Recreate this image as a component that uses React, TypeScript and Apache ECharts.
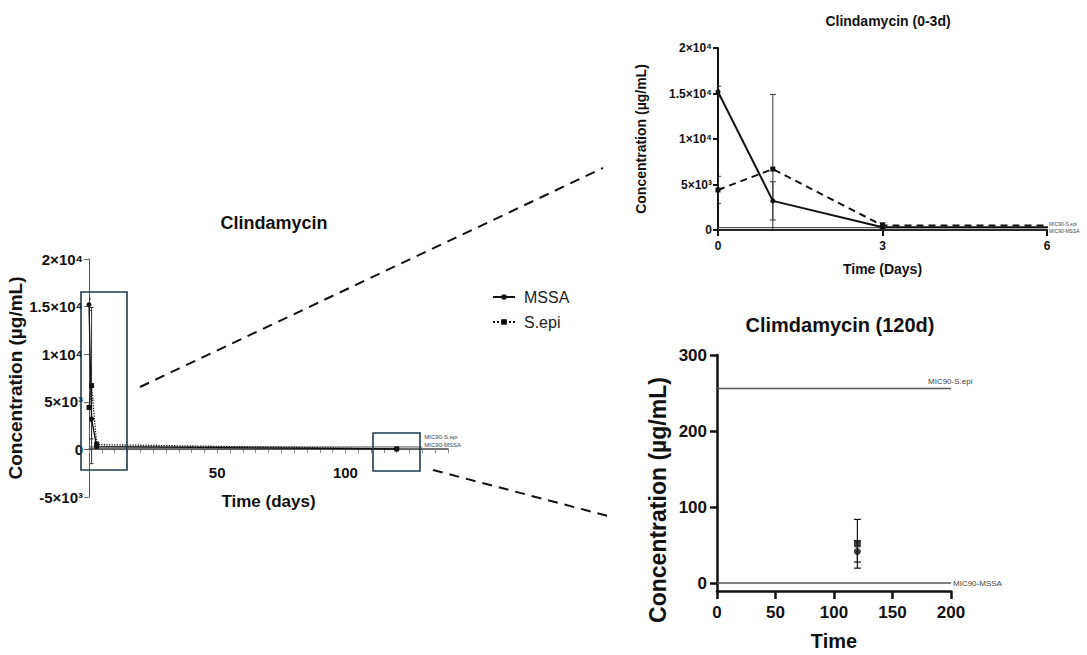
import React, { useEffect, useRef } from "react";
import * as echarts from "echarts";

// ---- data ----
const days = [0, 1, 3, 120];
const mssaMean = [15200, 3200, 300, 42];
const mssaErr = [600, 2100, 200, 14];
const sepiMean = [4400, 6700, 500, 52];
const sepiErr = [1500, 8200, 300, 32];
const micSepi = 256;
const micMssa = 0.5;
const micLabels = ["MIC90-S.epi", "MIC90-MSSA"];
const mainXLabels = [50, 100];
const zoomYTicks = [0, 100, 200, 300];
const mainMicEnd = 130;
const titles = ["Clindamycin", "Clindamycin (0-3d)", "Climdamycin (120d)"];

const FONT = '"Liberation Sans", Arial, Helvetica, sans-serif';
const INK = "#111";
const SUP: Record<string, string> = { "0": "⁰", "1": "¹", "2": "²", "3": "³", "4": "⁴", "5": "⁵", "6": "⁶", "7": "⁷", "8": "⁸", "9": "⁹" };

function sciLabel(v: number) {
  if (v === 0) return "0";
  const neg = v < 0 ? "-" : "";
  const a = Math.abs(v);
  const exp = Math.floor(Math.log10(a) + 1e-9);
  const mant = +(a / Math.pow(10, exp)).toFixed(2);
  const sup = String(exp).split("").map((c) => SUP[c]).join("");
  return `${neg}${mant}×10${sup}`;
}

function pairs(xs: number[], ys: number[]) {
  return xs.map((x, i) => [x, ys[i]]);
}

function errData(idx: number[]) {
  const out: number[][] = [];
  idx.forEach((i) => {
    out.push([days[i], mssaMean[i], mssaErr[i]]);
    out.push([days[i], sepiMean[i], sepiErr[i]]);
  });
  return out;
}

function errSeries(axis: number, data: number[][], cap: number, lw: number, color: string) {
  return {
    type: "custom",
    name: "err" + axis,
    xAxisIndex: axis,
    yAxisIndex: axis,
    clip: true,
    silent: true,
    z: 3,
    data,
    encode: { x: 0, y: 1 },
    renderItem: (params: any, api: any) => {
      const x = api.value(0);
      const y = api.value(1);
      const e = api.value(2);
      const t = api.coord([x, y + e]);
      const b = api.coord([x, y - e]);
      const st = { stroke: color, lineWidth: lw };
      return {
        type: "group",
        children: [
          { type: "line", shape: { x1: t[0], y1: t[1], x2: b[0], y2: b[1] }, style: st },
          { type: "line", shape: { x1: t[0] - cap, y1: t[1], x2: t[0] + cap, y2: t[1] }, style: st },
          { type: "line", shape: { x1: b[0] - cap, y1: b[1], x2: b[0] + cap, y2: b[1] }, style: st },
        ],
      };
    },
  };
}

function micSeries(axis: number, label: string, value: number, xEnd: number, offset: number[], fs: number, lw: number) {
  return {
    type: "line",
    name: label + axis,
    xAxisIndex: axis,
    yAxisIndex: axis,
    data: [
      [0, value],
      [xEnd, value],
    ],
    symbol: "none",
    silent: true,
    z: 1,
    lineStyle: { color: "#555", width: lw },
    endLabel: {
      show: true,
      formatter: label,
      distance: 2,
      offset,
      fontSize: fs,
      fontFamily: FONT,
      color: "#444",
    },
  };
}

export default function App() {
  const ref = useRef<HTMLDivElement>(null);

  useEffect(() => {
    if (!ref.current) return;
    const chart = echarts.init(ref.current, null, { renderer: "svg" });
    const last = days.length - 1;

    const option: any = {
      animation: false,
      backgroundColor: "#fff",
      textStyle: { fontFamily: FONT },
      title: [
        { text: titles[0], left: 269, top: 209, textAlign: "center", textStyle: { fontSize: 18, fontWeight: "bold", color: INK, fontFamily: FONT } },
        { text: titles[1], left: 883, top: 9, textAlign: "center", textStyle: { fontSize: 14, fontWeight: "bold", color: INK, fontFamily: FONT } },
        { text: titles[2], left: 835, top: 310, textAlign: "center", textStyle: { fontSize: 20, fontWeight: "bold", color: INK, fontFamily: FONT } },
      ],
      legend: {
        data: ["MSSA", "S.epi"],
        orient: "vertical",
        left: 487,
        top: 284,
        itemGap: 9,
        itemWidth: 22,
        itemHeight: 7,
        textStyle: { fontSize: 16, fontFamily: FONT, color: "#222", padding: [0, 0, 0, 4] },
        selectedMode: false,
      },
      grid: [
        { left: 89, top: 259, width: 359, height: 238 },
        { left: 718, top: 48, width: 329, height: 182 },
        { left: 717, top: 355, width: 234, height: 236 },
      ],
      xAxis: [
        {
          gridIndex: 0,
          type: "value",
          min: 0,
          max: 140,
          interval: 5,
          position: "bottom",
          offset: -48,
          splitLine: { show: false },
          axisLine: { onZero: false, lineStyle: { color: "#444", width: 1.5 } },
          axisTick: { length: 4, lineStyle: { color: "#888" } },
          axisLabel: {
            formatter: (v: number) => (mainXLabels.includes(v) ? String(v) : ""),
            fontSize: 15,
            fontWeight: "bold",
            color: INK,
            margin: 16,
          },
          name: "Time (days)",
          nameLocation: "middle",
          nameGap: 44,
          nameTextStyle: { fontSize: 17, fontWeight: "bold", color: INK, fontFamily: FONT },
        },
        {
          gridIndex: 1,
          type: "value",
          min: 0,
          max: 6,
          interval: 3,
          splitLine: { show: false },
          axisLine: { onZero: false, lineStyle: { color: INK, width: 2 } },
          axisTick: { length: 6, lineStyle: { color: INK, width: 2 } },
          axisLabel: { fontSize: 12, fontWeight: "bold", color: INK, margin: 10 },
          name: "Time (Days)",
          nameLocation: "middle",
          nameGap: 32,
          nameTextStyle: { fontSize: 14, fontWeight: "bold", color: INK, fontFamily: FONT },
        },
        {
          gridIndex: 2,
          type: "value",
          min: 0,
          max: 200,
          interval: 50,
          splitLine: { show: false },
          axisLine: { onZero: false, lineStyle: { color: INK, width: 2.5 } },
          axisTick: { length: 8, lineStyle: { color: INK, width: 2.5 } },
          axisLabel: { fontSize: 17, fontWeight: "bold", color: INK, margin: 13 },
          name: "Time",
          nameLocation: "middle",
          nameGap: 40,
          nameTextStyle: { fontSize: 20, fontWeight: "bold", color: INK, fontFamily: FONT },
        },
      ],
      yAxis: [
        {
          gridIndex: 0,
          type: "value",
          min: -5000,
          max: 20000,
          interval: 5000,
          splitLine: { show: false },
          axisLine: { show: true, onZero: false, lineStyle: { color: "#555", width: 1 } },
          axisTick: { show: true, length: 5, lineStyle: { color: "#666" } },
          axisLabel: { formatter: sciLabel, fontSize: 15, fontWeight: "bold", color: INK, margin: 6 },
          name: "Concentration (µg/mL)",
          nameLocation: "middle",
          nameGap: 60,
          nameTextStyle: { fontSize: 19, fontWeight: "bold", color: INK, fontFamily: FONT },
        },
        {
          gridIndex: 1,
          type: "value",
          min: 0,
          max: 20000,
          interval: 5000,
          splitLine: { show: false },
          axisLine: { show: true, onZero: false, lineStyle: { color: INK, width: 2 } },
          axisTick: { show: true, length: 5, lineStyle: { color: INK, width: 2 } },
          axisLabel: { formatter: sciLabel, fontSize: 12, fontWeight: "bold", color: INK, margin: 6 },
          name: "Concentration (µg/mL)",
          nameLocation: "middle",
          nameGap: 70,
          nameTextStyle: { fontSize: 14, fontWeight: "bold", color: INK, fontFamily: FONT },
        },
        {
          gridIndex: 2,
          type: "value",
          min: -10,
          max: 300,
          splitLine: { show: false },
          axisLine: { show: true, onZero: false, lineStyle: { color: INK, width: 2.5 } },
          axisTick: { show: true, length: 7, customValues: zoomYTicks, lineStyle: { color: INK, width: 2.5 } },
          axisLabel: { customValues: zoomYTicks, fontSize: 17, fontWeight: "bold", color: INK, margin: 10 },
        },
      ],
      series: [
        // main chart
        {
          type: "line",
          name: "MSSA",
          xAxisIndex: 0,
          yAxisIndex: 0,
          data: pairs(days, mssaMean),
          symbol: "circle",
          symbolSize: 5,
          z: 4,
          itemStyle: { color: INK },
          lineStyle: { color: INK, width: 1.3 },
        },
        {
          type: "line",
          name: "S.epi",
          xAxisIndex: 0,
          yAxisIndex: 0,
          data: pairs(days, sepiMean),
          symbol: "rect",
          symbolSize: 5,
          z: 4,
          itemStyle: { color: INK },
          lineStyle: { color: INK, width: 1.3, type: "dotted" },
        },
        // 0-3d chart
        {
          type: "line",
          name: "MSSA",
          xAxisIndex: 1,
          yAxisIndex: 1,
          data: pairs(days, mssaMean),
          symbol: "circle",
          symbolSize: 5,
          z: 4,
          itemStyle: { color: INK },
          lineStyle: { color: INK, width: 2 },
        },
        {
          type: "line",
          name: "S.epi",
          xAxisIndex: 1,
          yAxisIndex: 1,
          data: pairs(days, sepiMean),
          symbol: "rect",
          symbolSize: 5,
          z: 4,
          itemStyle: { color: INK },
          lineStyle: { color: INK, width: 2, type: [7, 5] },
        },
        // 120d chart
        {
          type: "scatter",
          name: "MSSA",
          xAxisIndex: 2,
          yAxisIndex: 2,
          data: [[days[last], mssaMean[last]]],
          symbol: "circle",
          symbolSize: 7,
          z: 4,
          itemStyle: { color: INK },
        },
        {
          type: "scatter",
          name: "S.epi",
          xAxisIndex: 2,
          yAxisIndex: 2,
          data: [[days[last], sepiMean[last]]],
          symbol: "rect",
          symbolSize: 7,
          z: 4,
          itemStyle: { color: INK },
        },
        errSeries(0, errData([0, 1, 2, 3]), 2, 1, "#333"),
        errSeries(1, errData([0, 1, 2]), 3, 1, "#333"),
        errSeries(2, errData([last]), 3.5, 1.2, INK),
        micSeries(0, micLabels[0], micSepi, mainMicEnd, [0, -10], 6, 1),
        micSeries(0, micLabels[1], micMssa, mainMicEnd, [0, -4], 6, 1),
        micSeries(1, micLabels[0], micSepi, 6, [0, -4], 5, 1.2),
        micSeries(1, micLabels[1], micMssa, 6, [0, 1], 5, 1.2),
        micSeries(2, micLabels[0], micSepi, 200, [-25, -7], 8, 1.5),
        micSeries(2, micLabels[1], micMssa, 200, [0, 0], 8, 1.5),
      ],
      graphic: [
        { type: "rect", shape: { x: 81, y: 292, width: 46, height: 178 }, style: { fill: "none", stroke: "#1f3b4d", lineWidth: 1.6 }, z: 10 },
        { type: "rect", shape: { x: 373, y: 433, width: 47, height: 38 }, style: { fill: "none", stroke: "#1f3b4d", lineWidth: 1.6 }, z: 10 },
        { type: "line", shape: { x1: 140, y1: 387, x2: 603, y2: 168 }, style: { stroke: "#111", lineWidth: 2, lineDash: [10, 7] }, z: 10 },
        { type: "line", shape: { x1: 433, y1: 470, x2: 608, y2: 516 }, style: { stroke: "#111", lineWidth: 2, lineDash: [10, 7] }, z: 10 },
        {
          type: "text",
          x: 658,
          y: 500,
          rotation: Math.PI / 2,
          style: { text: "Concentration (µg/mL)", fontSize: 23, fontWeight: "bold", fontFamily: FONT, fill: INK, align: "center", verticalAlign: "middle" },
          z: 10,
        },
      ],
    };

    chart.setOption(option);
    return () => chart.dispose();
  }, []);

  return (
    <div
      ref={ref}
      style={{ position: "fixed", left: 0, top: 0, width: 1087, height: 655, background: "#fff" }}
    />
  );
}
